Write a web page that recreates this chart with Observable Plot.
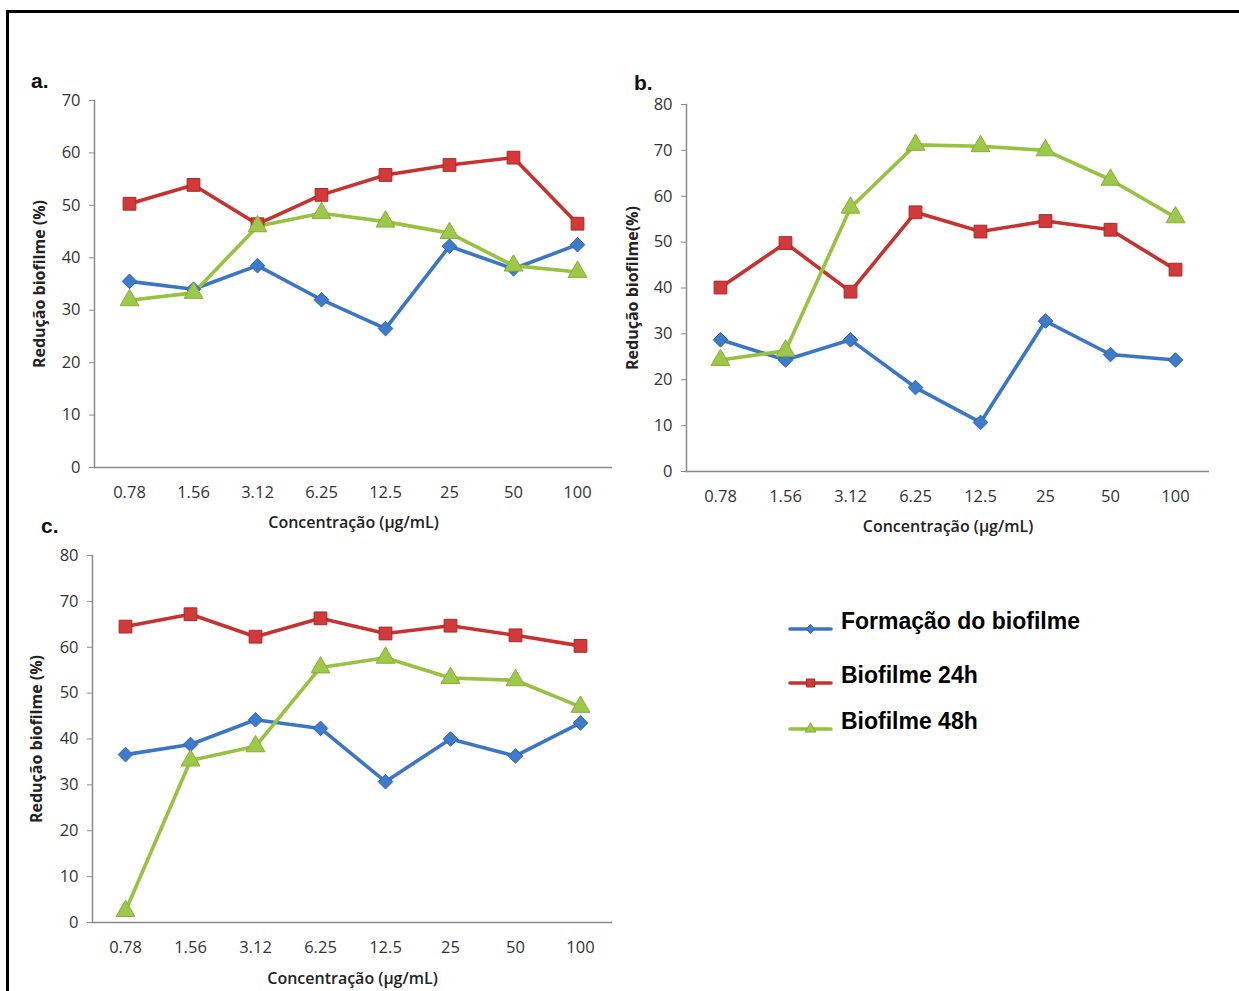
<!DOCTYPE html>
<html>
<head>
<meta charset="utf-8">
<script src="https://cdn.jsdelivr.net/npm/d3@7"></script>
<script src="https://cdn.jsdelivr.net/npm/@observablehq/plot@0.6"></script>
<style>
  html, body { margin: 0; padding: 0; background: #fff; overflow: hidden; }
  #page { position: relative; width: 1239px; height: 991px; overflow: hidden; background: #fff; }
  #frame { position: absolute; left: 6px; top: 10px; width: 3000px; height: 3000px; border-top: 3px solid #000; border-left: 3px solid #000; }
  .panel { position: absolute; }
  .tag { position: absolute; font-family: "Liberation Sans", Arial, sans-serif; font-weight: bold; font-size: 21px; color: #111; }
  #legend { position: absolute; left: 788px; top: 604px; font-family: "Liberation Sans", Arial, sans-serif; font-weight: bold; font-size: 23px; color: #000; }
  .lrow { position: absolute; left: 0; white-space: nowrap; height: 30px; }
  .lrow svg { position: absolute; left: 0; top: 0; }
  .lrow span { position: absolute; left: 53px; top: 1px; }
</style>
</head>
<body>
<div id="page">
  <div id="frame"></div>
  <div class="tag" style="left:31px; top:69px;">a.</div>
  <div class="tag" style="left:634px; top:71px;">b.</div>
  <div class="tag" style="left:41px; top:514px;">c.</div>
  <div id="pa" class="panel" style="left:0px; top:85px;"></div>
  <div id="pb" class="panel" style="left:600px; top:85px;"></div>
  <div id="pc" class="panel" style="left:0px; top:540px;"></div>
  <div id="legend"></div>
</div>
<script>
// ---- data ----
const concentrations = ["0.78", "1.56", "3.12", "6.25", "12.5", "25", "50", "100"];
const seriesNames = ["Formação do biofilme", "Biofilme 24h", "Biofilme 48h"];

// panel a
const aFormacao = [35.5, 34.0, 38.5, 32.0, 26.5, 42.2, 37.9, 42.5];
const aBiofilme24 = [50.3, 53.9, 46.4, 52.0, 55.8, 57.7, 59.1, 46.5];
const aBiofilme48 = [31.9, 33.3, 46.0, 48.5, 46.9, 44.7, 38.5, 37.3];

// panel b
const bFormacao = [28.7, 24.3, 28.7, 18.3, 10.7, 32.8, 25.5, 24.3];
const bBiofilme24 = [40.1, 49.8, 39.2, 56.5, 52.3, 54.6, 52.7, 44.0];
const bBiofilme48 = [24.3, 26.3, 57.5, 71.2, 70.9, 70.0, 63.6, 55.4];

// panel c
const cFormacao = [36.6, 38.8, 44.2, 42.3, 30.7, 40.0, 36.3, 43.5];
const cBiofilme24 = [64.5, 67.2, 62.3, 66.3, 63.0, 64.7, 62.6, 60.3];
const cBiofilme48 = [2.5, 35.3, 38.4, 55.6, 57.7, 53.3, 52.8, 47.0];

// ---- styling ----
const colors = ["#3B76C6", "#C8322E", "#96C23F"];
const markFill = ["#3F7BCB", "#D1393A", "#9DC84A"];
const markStroke = ["#2F63AE", "#A82A26", "#86AE36"];
const symbols = ["diamond2", "square", "triangle"];
const radii = [6.6, 7.2, 7.0];

function tidy(f, b24, b48) {
  const out = [];
  [f, b24, b48].forEach((arr, s) => arr.forEach((v, i) => out.push({conc: concentrations[i], value: v, series: seriesNames[s]})));
  return out;
}

function panel({data, yMax, yLabel, width, height, mLeft, mRight, mTop, mBottom, xLabelOffset, yLabelOffset}) {
  const marks = [
    Plot.ruleY([0], {stroke: "#8a8a8a", strokeWidth: 1.5}),
    Plot.frame({anchor: "left", stroke: "#8a8a8a", strokeWidth: 1.5}),
    Plot.axisY({
      ticks: d3.range(0, yMax + 1, 10), tickSize: 5, tickPadding: 9, stroke: "#8a8a8a",
      label: yLabel, labelAnchor: "center", labelArrow: "none", labelOffset: yLabelOffset,
      fontSize: 16.5, fill: "#333"
    }),
    Plot.axisX({
      tickSize: 0, tickPadding: 19, label: "Concentração (µg/mL)", labelAnchor: "center",
      labelArrow: "none", labelOffset: xLabelOffset, fontSize: 16.5, fill: "#333"
    })
  ];
  seriesNames.forEach((name, s) => {
    const d = data.filter(r => r.series === name);
    marks.push(Plot.line(d, {x: "conc", y: "value", stroke: colors[s], strokeWidth: 3.6, strokeLinejoin: "round"}));
  });
  seriesNames.forEach((name, s) => {
    const d = data.filter(r => r.series === name);
    marks.push(Plot.dot(d, {x: "conc", y: "value", symbol: () => symbols[s], r: radii[s], fill: markFill[s], stroke: markStroke[s], strokeWidth: 1}));
  });
  const svg = Plot.plot({
    width, height,
    marginLeft: mLeft, marginRight: mRight, marginTop: mTop, marginBottom: mBottom,
    style: {fontFamily: "'Open Sans', sans-serif", fontSize: "16.5px", color: "#333", background: "transparent", overflow: "visible"},
    x: {type: "point", domain: concentrations, padding: 0.5},
    y: {domain: [0, yMax]},
    symbol: {type: "identity"},
    marks
  });
  svg.querySelectorAll("g[aria-label='x-axis label'] text").forEach(t => {
    t.setAttribute("font-weight", "600");
    t.setAttribute("font-size", "16");
    t.setAttribute("fill", "#222");
  });
  svg.querySelectorAll("g[aria-label='y-axis label'] text").forEach(t => {
    t.setAttribute("font-weight", "bold");
    t.setAttribute("font-size", "16");
    t.setAttribute("fill", "#222");
  });
  return svg;
}

document.getElementById("pa").appendChild(panel({
  data: tidy(aFormacao, aBiofilme24, aBiofilme48), yMax: 70, yLabel: "Redução biofilme (%)",
  width: 625, height: 460, mLeft: 94, mRight: 13, mTop: 15, mBottom: 78, xLabelOffset: 60, yLabelOffset: 61
}));
document.getElementById("pb").appendChild(panel({
  data: tidy(bFormacao, bBiofilme24, bBiofilme48), yMax: 80, yLabel: "Redução biofilme(%)",
  width: 620, height: 460, mLeft: 86, mRight: 11, mTop: 19, mBottom: 74, xLabelOffset: 60, yLabelOffset: 60
}));
document.getElementById("pc").appendChild(panel({
  data: tidy(cFormacao, cBiofilme24, cBiofilme48), yMax: 80, yLabel: "Redução biofilme (%)",
  width: 625, height: 451, mLeft: 92, mRight: 13, mTop: 15, mBottom: 69, xLabelOffset: 61, yLabelOffset: 62
}));

// ---- legend ----
const legend = document.getElementById("legend");
const legendTops = [3, 57, 103];
seriesNames.forEach((name, s) => {
  const row = document.createElement("div");
  row.className = "lrow";
  row.style.top = legendTops[s] + "px";
  const ns = "http://www.w3.org/2000/svg";
  const sw = document.createElementNS(ns, "svg");
  sw.setAttribute("width", 46); sw.setAttribute("height", 30);
  const ln = document.createElementNS(ns, "line");
  ln.setAttribute("x1", 2); ln.setAttribute("x2", 43); ln.setAttribute("y1", 22); ln.setAttribute("y2", 22);
  ln.setAttribute("stroke", colors[s]); ln.setAttribute("stroke-width", 3.6); ln.setAttribute("stroke-linecap", "round");
  sw.appendChild(ln);
  const sym = {diamond2: d3.symbolDiamond2, square: d3.symbolSquare, triangle: d3.symbolTriangle}[symbols[s]];
  const p = document.createElementNS(ns, "path");
  p.setAttribute("d", d3.symbol(sym, [50, 64, 50][s])());
  p.setAttribute("transform", "translate(22.5,22)");
  p.setAttribute("fill", markFill[s]); p.setAttribute("stroke", markStroke[s]);
  sw.appendChild(p);
  row.appendChild(sw);
  const t = document.createElement("span");
  t.textContent = name;
  row.appendChild(t);
  legend.appendChild(row);
});
</script>
</body>
</html>
